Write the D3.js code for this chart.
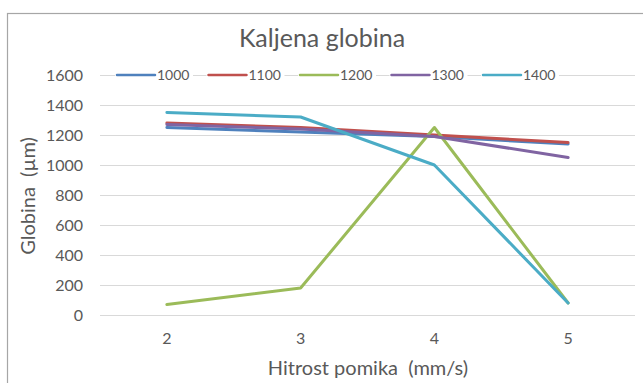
<!DOCTYPE html>
<html>
<head>
<meta charset="utf-8">
<script src="https://cdn.jsdelivr.net/npm/d3@7"></script>
<style>
  html, body { margin: 0; padding: 0; background: #ffffff; }
  svg { display: block; font-family: Lato, "Open Sans", sans-serif; }
</style>
</head>
<body>
<svg id="chart" width="643" height="383"></svg>
<script>
// Hardened depth versus feed speed, one line per temperature
const speeds = ["2", "3", "4", "5"];
const seriesNames = ["1000", "1100", "1200", "1300", "1400"];
const seriesColors = ["#4F81BD", "#C0504D", "#9BBB59", "#8064A2", "#4BACC6"];
const depth1000 = [1250, 1220, 1190, 1140];
const depth1100 = [1280, 1250, 1200, 1150];
const depth1200 = [70, 180, 1250, 80];
const depth1300 = [1270, 1240, 1190, 1050];
const depth1400 = [1350, 1320, 1000, 80];
const yTicks = [0, 200, 400, 600, 800, 1000, 1200, 1400, 1600];

const seriesValues = [depth1000, depth1100, depth1200, depth1300, depth1400];
const series = seriesNames.map((name, i) => ({ name, color: seriesColors[i], values: seriesValues[i] }));

const svg = d3.select("#chart");
const W = 643, H = 383;
const plot = { left: 100, right: 635, top: 75, bottom: 315 };
const textColor = "#595959";

// Chart frame
svg.append("rect")
  .attr("x", 7.5).attr("y", 13.5)
  .attr("width", W + 10).attr("height", H + 10)
  .attr("fill", "#ffffff").attr("stroke", "#a6a6a6").attr("stroke-width", 1.2);

const x = d3.scaleBand().domain(speeds).range([plot.left, plot.right]);
const y = d3.scaleLinear().domain([0, 1600]).range([plot.bottom, plot.top]);

// Horizontal gridlines + y labels
const yAxis = d3.axisLeft(y).tickValues(yTicks).tickFormat(d3.format("d"))
  .tickSize(-(plot.right - plot.left)).tickPadding(17);
const gy = svg.append("g").attr("transform", `translate(${plot.left},0)`).call(yAxis);
gy.select(".domain").remove();
gy.selectAll(".tick line").attr("stroke", "#d9d9d9").attr("stroke-width", 1);
gy.selectAll(".tick text").attr("fill", textColor).attr("font-size", 16)
  .attr("font-family", "Lato, sans-serif");

// x labels
const xAxis = d3.axisBottom(x).tickSize(0).tickPadding(18);
const gx = svg.append("g").attr("transform", `translate(0,${plot.bottom})`).call(xAxis);
gx.select(".domain").remove();
gx.selectAll(".tick text").attr("fill", textColor).attr("font-size", 16)
  .attr("font-family", "Lato, sans-serif");

// Lines
const line = d3.line()
  .x((d, i) => x(speeds[i]) + x.bandwidth() / 2)
  .y(d => y(d));

svg.append("g").selectAll("path")
  .data(series)
  .join("path")
  .attr("d", d => line(d.values))
  .attr("fill", "none")
  .attr("stroke", d => d.color)
  .attr("stroke-width", 3)
  .attr("stroke-linejoin", "round")
  .attr("stroke-linecap", "round");

// Legend over the top gridline
const legendX0 = 117, legendStep = 91.5, legendY = 75;
const lg = svg.append("g").selectAll("g")
  .data(series)
  .join("g")
  .attr("transform", (d, i) => `translate(${legendX0 + i * legendStep},${legendY})`);
lg.append("rect").attr("x", -2).attr("y", -8).attr("width", 78).attr("height", 16).attr("fill", "#ffffff");
lg.append("line")
  .attr("x1", 0).attr("x2", 38).attr("y1", 0).attr("y2", 0)
  .attr("stroke", d => d.color).attr("stroke-width", 2.5).attr("stroke-linecap", "round");
lg.append("text")
  .attr("x", 40).attr("y", 0).attr("dy", "0.35em")
  .attr("fill", textColor).attr("font-size", 14)
  .text(d => d.name);

// Titles
svg.append("text")
  .attr("x", 322).attr("y", 47)
  .attr("text-anchor", "middle")
  .attr("fill", textColor).attr("font-size", 25)
  .text("Kaljena globina");

svg.append("text")
  .attr("transform", "translate(35,196) rotate(-90)")
  .attr("text-anchor", "middle")
  .attr("fill", textColor).attr("font-size", 20)
  .text("Globina\u00a0\u00a0(µm)");

svg.append("text")
  .attr("x", 368).attr("y", 375)
  .attr("text-anchor", "middle")
  .attr("fill", textColor).attr("font-size", 20)
  .text("Hitrost pomika\u00a0\u00a0(mm/s)");
</script>
</body>
</html>
